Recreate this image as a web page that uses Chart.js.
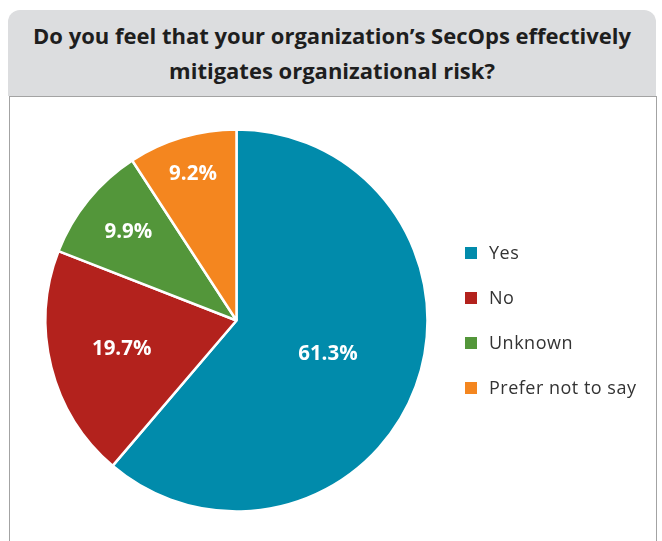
<!DOCTYPE html>
<html>
<head>
<meta charset="utf-8">
<script src="https://cdn.jsdelivr.net/npm/chart.js@4.4.1/dist/chart.umd.min.js"></script>
<style>
  html, body { margin: 0; padding: 0; background: #fff; }
  #wrap { position: relative; width: 662px; height: 541px; overflow: hidden; }
  #head {
    position: absolute; left: 8px; top: 10px; width: 648px; height: 86px;
    background: #dcdddf; border-radius: 12px 12px 0 0;
    display: flex; align-items: center; justify-content: center; text-align: center;
    font-family: "Open Sans", sans-serif; font-weight: bold; font-size: 22px; line-height: 35px;
    color: #1e1e1e;
  }
  #box {
    position: absolute; left: 9px; top: 96px; width: 646px; height: 460px;
    border: 1px solid #a3a3a3; border-bottom: none; background: #fff;
  }
  #chart { position: absolute; left: 0; top: 0; }
  #legend { position: absolute; left: 465px; top: 240px; font-family: "Open Sans", sans-serif; font-size: 18px; letter-spacing: 0.5px; color: #333; }
  #legend .row { height: 45px; display: flex; align-items: flex-start; }
  #legend .sw { width: 12px; height: 12px; margin-top: 7px; margin-right: 12px; }
</style>
</head>
<body>
<div id="wrap">
  <div id="head"><div>Do you feel that your organization’s SecOps effectively<br>mitigates organizational risk?</div></div>
  <div id="box"></div>
  <canvas id="chart" width="662" height="541"></canvas>
  <div id="legend"></div>
</div>
<script>
// Survey answers (percent of respondents)
const categories = ['Yes', 'No', 'Unknown', 'Prefer not to say'];
const shares = [61.3, 19.7, 9.9, 9.2];
const sliceColors = ['#018bab', '#b3221d', '#53963a', '#f4861f'];
// How far out (fraction of radius) each value label sits
const labelRadius = [0.51, 0.62, 0.73, 0.80];

// Percent labels drawn on the slices
const sliceLabels = {
  id: 'sliceLabels',
  afterDatasetsDraw(chart) {
    const ctx = chart.ctx;
    const meta = chart.getDatasetMeta(0);
    ctx.save();
    ctx.fillStyle = '#ffffff';
    ctx.font = 'bold 20.5px "Open Sans", sans-serif';
    ctx.textAlign = 'center';
    ctx.textBaseline = 'middle';
    meta.data.forEach((arc, i) => {
      const p = arc.getProps(['x', 'y', 'startAngle', 'endAngle', 'outerRadius']);
      const mid = (p.startAngle + p.endAngle) / 2;
      const r = p.outerRadius * labelRadius[i];
      const v = chart.data.datasets[0].data[i];
      ctx.fillText(v.toFixed(1) + '%', p.x + Math.cos(mid) * r, p.y + Math.sin(mid) * r);
    });
    ctx.restore();
  }
};

new Chart(document.getElementById('chart'), {
  type: 'pie',
  data: {
    labels: categories,
    datasets: [{
      data: shares,
      backgroundColor: sliceColors,
      borderColor: '#ffffff',
      borderWidth: 2.5
    }]
  },
  options: {
    responsive: false,
    animation: false,
    radius: 191,
    layout: { padding: { left: 45, right: 234, top: 129, bottom: 29 } },
    plugins: { legend: { display: false }, tooltip: { enabled: false } }
  },
  plugins: [sliceLabels]
});

// Legend built from the same categories and colours
const legend = document.getElementById('legend');
categories.forEach((c, i) => {
  const row = document.createElement('div');
  row.className = 'row';
  const sw = document.createElement('div');
  sw.className = 'sw';
  sw.style.background = sliceColors[i];
  const t = document.createElement('span');
  t.textContent = c;
  row.appendChild(sw);
  row.appendChild(t);
  legend.appendChild(row);
});
</script>
</body>
</html>
